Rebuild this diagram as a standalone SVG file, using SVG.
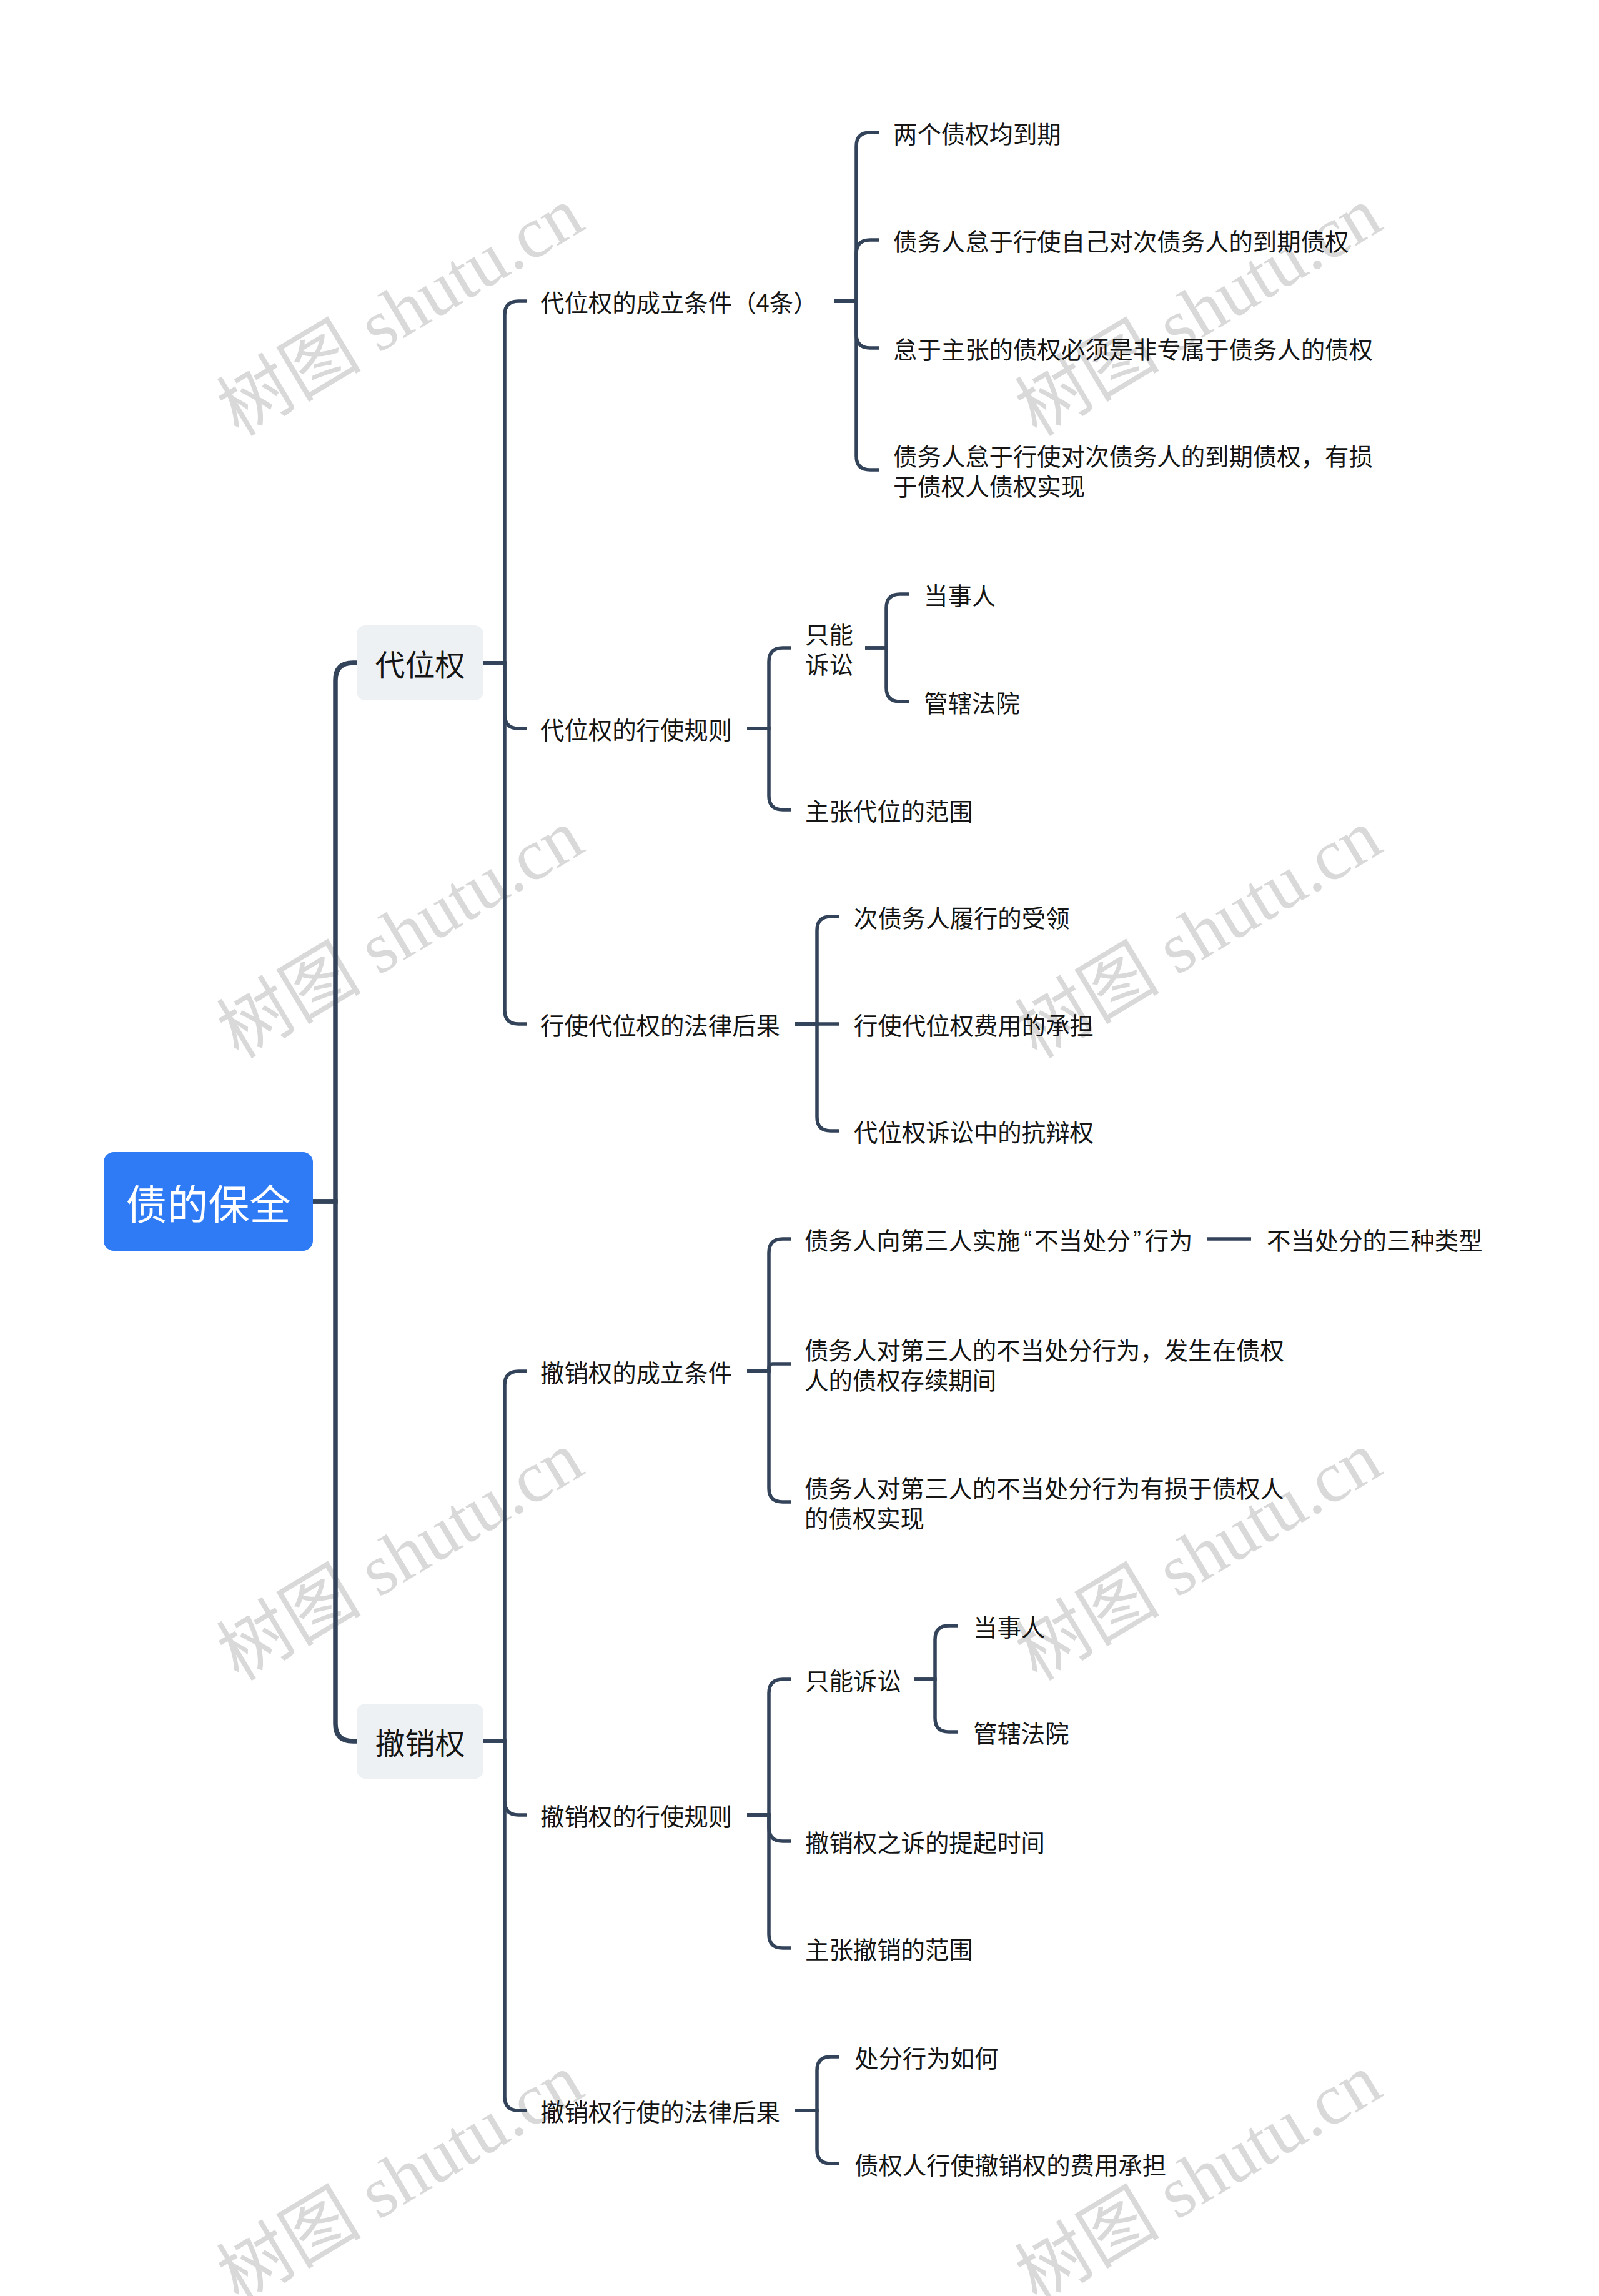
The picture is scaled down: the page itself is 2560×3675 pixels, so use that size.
<svg xmlns="http://www.w3.org/2000/svg" width="2560" height="3675" viewBox="0 0 2560 3675">
<style>
.t{font-family:"Noto Sans CJK SC","Noto Sans",sans-serif;font-size:38.4px;fill:#151515;dominant-baseline:central}
.q{font-family:"Liberation Sans","Noto Sans CJK SC",sans-serif}
.l1t{font-family:"Noto Sans CJK SC","Noto Sans",sans-serif;font-size:48px;fill:#151515;dominant-baseline:central;text-anchor:middle}
.root{font-family:"Noto Sans CJK SC","Noto Sans",sans-serif;font-size:66px;fill:#ffffff;dominant-baseline:central;text-anchor:middle}
.wm{font-family:"Liberation Serif","Noto Sans CJK SC",serif;font-size:116px;fill:#d9d9d9}
.c{fill:none;stroke:#33435a;stroke-width:5.5;stroke-linecap:butt}
.c1{fill:none;stroke:#33435a;stroke-width:7.5}
.box{fill:#eef1f4}
</style>
<rect width="2560" height="3675" fill="#ffffff"/>
<g id="watermark">
<text class="wm" x="382" y="700" transform="rotate(-31 382 700)">树图 shutu.cn</text>
<text class="wm" x="1660" y="700" transform="rotate(-31 1660 700)">树图 shutu.cn</text>
<text class="wm" x="382" y="1696" transform="rotate(-31 382 1696)">树图 shutu.cn</text>
<text class="wm" x="1660" y="1696" transform="rotate(-31 1660 1696)">树图 shutu.cn</text>
<text class="wm" x="382" y="2692" transform="rotate(-31 382 2692)">树图 shutu.cn</text>
<text class="wm" x="1660" y="2692" transform="rotate(-31 1660 2692)">树图 shutu.cn</text>
<text class="wm" x="382" y="3688" transform="rotate(-31 382 3688)">树图 shutu.cn</text>
<text class="wm" x="1660" y="3688" transform="rotate(-31 1660 3688)">树图 shutu.cn</text>
</g>
<g id="connectors">
<path class="c1" d="M501 1923 H537 V1089 Q537 1061 565 1061 H572"/>
<path class="c1" d="M501 1923 H537 V2759 Q537 2787 565 2787 H572"/>
<path class="c" d="M774 1061 H808 V504 Q808 482 830 482 H844"/>
<path class="c" d="M774 1061 H808 V1144 Q808 1166 830 1166 H844"/>
<path class="c" d="M774 1061 H808 V1617 Q808 1639 830 1639 H844"/>
<path class="c" d="M774 2787 H808 V2217 Q808 2195 830 2195 H844"/>
<path class="c" d="M774 2787 H808 V2883 Q808 2905 830 2905 H844"/>
<path class="c" d="M774 2787 H808 V3356 Q808 3378 830 3378 H844"/>
<path class="c" d="M1336 482 H1371 V234 Q1371 212 1393 212 H1407"/>
<path class="c" d="M1336 482 H1371 V406 Q1371 384 1393 384 H1407"/>
<path class="c" d="M1336 482 H1371 V535 Q1371 557 1393 557 H1407"/>
<path class="c" d="M1336 482 H1371 V730 Q1371 752 1393 752 H1407"/>
<path class="c" d="M1196 1166 H1231 V1059 Q1231 1037 1253 1037 H1267"/>
<path class="c" d="M1196 1166 H1231 V1274 Q1231 1296 1253 1296 H1267"/>
<path class="c" d="M1385 1037 H1419 V973 Q1419 951 1441 951 H1455"/>
<path class="c" d="M1385 1037 H1419 V1101 Q1419 1123 1441 1123 H1455"/>
<path class="c" d="M1273 1639 H1308 V1489 Q1308 1467 1330 1467 H1343"/>
<path class="c" d="M1273 1639 H1343"/>
<path class="c" d="M1273 1639 H1308 V1788 Q1308 1810 1330 1810 H1343"/>
<path class="c" d="M1196 2195 H1231 V2005 Q1231 1983 1253 1983 H1267"/>
<path class="c" d="M1196 2195 H1231 V2189 Q1231 2183 1237 2183 H1267"/>
<path class="c" d="M1196 2195 H1231 V2382 Q1231 2404 1253 2404 H1267"/>
<path class="c" d="M1933 1983 H2003"/>
<path class="c" d="M1196 2905 H1231 V2710 Q1231 2688 1253 2688 H1267"/>
<path class="c" d="M1196 2905 H1231 V2925 Q1231 2947 1253 2947 H1267"/>
<path class="c" d="M1196 2905 H1231 V3096 Q1231 3118 1253 3118 H1267"/>
<path class="c" d="M1464 2688 H1497 V2624 Q1497 2602 1519 2602 H1533"/>
<path class="c" d="M1464 2688 H1497 V2750 Q1497 2772 1519 2772 H1533"/>
<path class="c" d="M1273 3378 H1308 V3314 Q1308 3292 1330 3292 H1343"/>
<path class="c" d="M1273 3378 H1308 V3441 Q1308 3463 1330 3463 H1343"/>
</g>
<g id="root">
<rect x="166" y="1844" width="335" height="158" rx="16" fill="#2f7bf5"/>
<text class="root" x="333.5" y="1923">债的保全</text>
</g>
<g id="n-daiwei">
<rect class="box" x="571" y="1001" width="203" height="120" rx="14"/>
<text class="l1t" x="672.5" y="1061">代位权</text>
</g>
<g id="n-chexiao">
<rect class="box" x="571" y="2727" width="203" height="120" rx="14"/>
<text class="l1t" x="672.5" y="2787">撤销权</text>
</g>
<g id="n-dw-cond"><text class="t" x="865" y="482">代位权的成立条件（4条）</text></g>
<g id="n-dw-c1"><text class="t" x="1430" y="212">两个债权均到期</text></g>
<g id="n-dw-c2"><text class="t" x="1430" y="384">债务人怠于行使自己对次债务人的到期债权</text></g>
<g id="n-dw-c3"><text class="t" x="1430" y="557">怠于主张的债权必须是非专属于债务人的债权</text></g>
<g id="n-dw-c4"><text class="t" x="1430" y="728">债务人怠于行使对次债务人的到期债权，有损<tspan x="1430" y="776">于债权人债权实现</tspan></text></g>
<g id="n-dw-rule"><text class="t" x="865" y="1166">代位权的行使规则</text></g>
<g id="n-dw-r1"><text class="t" x="1289" y="1013">只能<tspan x="1289" y="1061">诉讼</tspan></text></g>
<g id="n-dw-r1a"><text class="t" x="1479" y="951">当事人</text></g>
<g id="n-dw-r1b"><text class="t" x="1479" y="1123">管辖法院</text></g>
<g id="n-dw-r2"><text class="t" x="1289" y="1296">主张代位的范围</text></g>
<g id="n-dw-eff"><text class="t" x="865" y="1639">行使代位权的法律后果</text></g>
<g id="n-dw-e1"><text class="t" x="1367" y="1467">次债务人履行的受领</text></g>
<g id="n-dw-e2"><text class="t" x="1367" y="1639">行使代位权费用的承担</text></g>
<g id="n-dw-e3"><text class="t" x="1367" y="1810">代位权诉讼中的抗辩权</text></g>
<g id="n-cx-cond"><text class="t" x="865" y="2195">撤销权的成立条件</text></g>
<g id="n-cx-c1"><text class="t" x="1288" y="1983">债务人向第三人实施<tspan class="q" dx="6">“</tspan><tspan dx="4">不当处分</tspan><tspan class="q" dx="4">”</tspan><tspan dx="6">行为</tspan></text></g>
<g id="n-cx-c1a"><text class="t" x="2028" y="1983">不当处分的三种类型</text></g>
<g id="n-cx-c2"><text class="t" x="1288" y="2159">债务人对第三人的不当处分行为，发生在债权<tspan x="1288" y="2207">人的债权存续期间</tspan></text></g>
<g id="n-cx-c3"><text class="t" x="1288" y="2380">债务人对第三人的不当处分行为有损于债权人<tspan x="1288" y="2428">的债权实现</tspan></text></g>
<g id="n-cx-rule"><text class="t" x="865" y="2905">撤销权的行使规则</text></g>
<g id="n-cx-r1"><text class="t" x="1289" y="2688">只能诉讼</text></g>
<g id="n-cx-r1a"><text class="t" x="1558" y="2602">当事人</text></g>
<g id="n-cx-r1b"><text class="t" x="1558" y="2772">管辖法院</text></g>
<g id="n-cx-r2"><text class="t" x="1289" y="2947">撤销权之诉的提起时间</text></g>
<g id="n-cx-r3"><text class="t" x="1289" y="3118">主张撤销的范围</text></g>
<g id="n-cx-eff"><text class="t" x="865" y="3378">撤销权行使的法律后果</text></g>
<g id="n-cx-e1"><text class="t" x="1368" y="3292">处分行为如何</text></g>
<g id="n-cx-e2"><text class="t" x="1368" y="3463">债权人行使撤销权的费用承担</text></g>
</svg>
